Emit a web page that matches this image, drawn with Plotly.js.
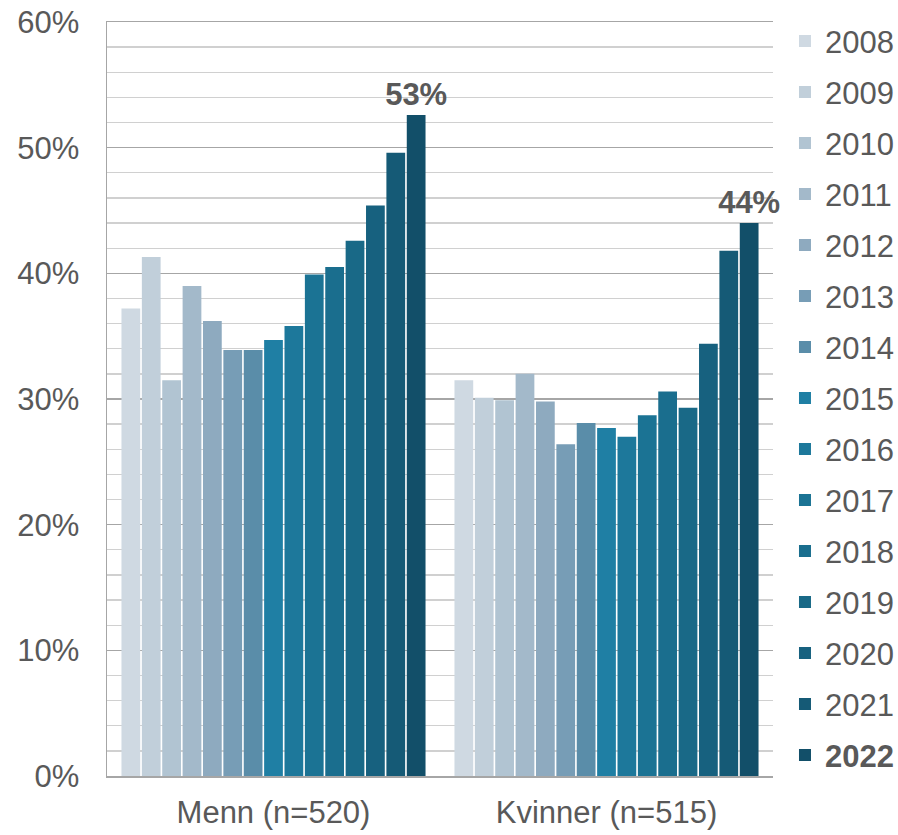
<!DOCTYPE html>
<html>
<head>
<meta charset="utf-8">
<script src="https://cdn.plot.ly/plotly-3.0.1.min.js"></script>
<style>html,body{margin:0;padding:0;background:#fff;}#chart{width:898px;height:835px;}</style>
</head>
<body>
<div id="chart"></div>
<script>
var categories = ["Menn (n=520)", "Kvinner (n=515)"];
var years = ["2008","2009","2010","2011","2012","2013","2014","2015","2016","2017","2018","2019","2020","2021","2022"];
var menn =    [37.2, 41.3, 31.5, 39.0, 36.2, 33.9, 33.9, 34.7, 35.8, 39.9, 40.5, 42.6, 45.4, 49.6, 52.6];
var kvinner = [31.5, 30.1, 29.9, 32.0, 29.8, 26.4, 28.1, 27.7, 27.0, 28.7, 30.6, 29.3, 34.4, 41.8, 44.0];
var colors = ["#cfd9e2","#c1cfda","#b1c4d2","#a3b9ca","#8eaabf","#779db6","#5a8da9","#1f7fa4","#1d789b","#1b7394","#1a6e8e","#196987","#17617f","#155a76","#124f69"];
var yTickVals = [0,10,20,30,40,50,60];
var yTickText = ["0%","10%","20%","30%","40%","50%","60%"];

var traces = years.map(function(yr, i){
  var last = (i === years.length - 1);
  var vals = [menn[i], kvinner[i]];
  return {
    type: 'bar',
    name: last ? '<b>' + yr + '</b>' : yr,
    legendgroup: 'g' + yr,
    x: categories,
    y: vals,
    marker: {color: colors[i], line: {width: 0}},
    text: last ? vals.map(function(v){ return '<b>' + Math.round(v) + '%</b>'; }) : null,
    textposition: last ? 'outside' : 'none',
    textfont: {family: 'Liberation Sans, Arial, sans-serif', size: 31, color: '#595959'},
    constraintext: 'none',
    cliponaxis: false,
    hoverinfo: 'none'
  };
});

var layout = {
  width: 898, height: 835,
  margin: {l: 107, r: 125, t: 22, b: 59, autoexpand: false},
  paper_bgcolor: '#ffffff', plot_bgcolor: '#ffffff',
  barmode: 'group', bargap: 0.082, bargroupgap: 0.08,
  font: {family: 'Liberation Sans, Arial, sans-serif', size: 31, color: '#595959'},
  showlegend: true,
  legend: {
    x: 1.018, xanchor: 'left', y: 1.01, yanchor: 'top',
    traceorder: 'grouped', tracegroupgap: 7.7,
    maxheight: 1,
    font: {size: 31, color: '#595959'},
    bgcolor: 'rgba(0,0,0,0)', borderwidth: 0
  },
  xaxis: {
    type: 'category',
    showline: true, linecolor: '#a6a6a6', linewidth: 1.5, mirror: true,
    ticks: '', showgrid: false, ticklabelstandoff: 8,
    tickfont: {size: 31, color: '#595959'}
  },
  yaxis: {
    range: [0, 60],
    tickvals: yTickVals, ticktext: yTickText,
    showline: true, linecolor: '#a6a6a6', linewidth: 1.5,
    showgrid: true, gridcolor: '#a6a6a6', gridwidth: 1.3,
    minor: {dtick: 2, showgrid: true, gridcolor: '#d0d0d0', gridwidth: 1.3},
    ticks: '', ticklabelstandoff: 20,
    zeroline: false,
    tickfont: {size: 31, color: '#595959'}
  }
};

Plotly.newPlot('chart', traces, layout, {displayModeBar: false, staticPlot: true});
</script>
</body>
</html>
